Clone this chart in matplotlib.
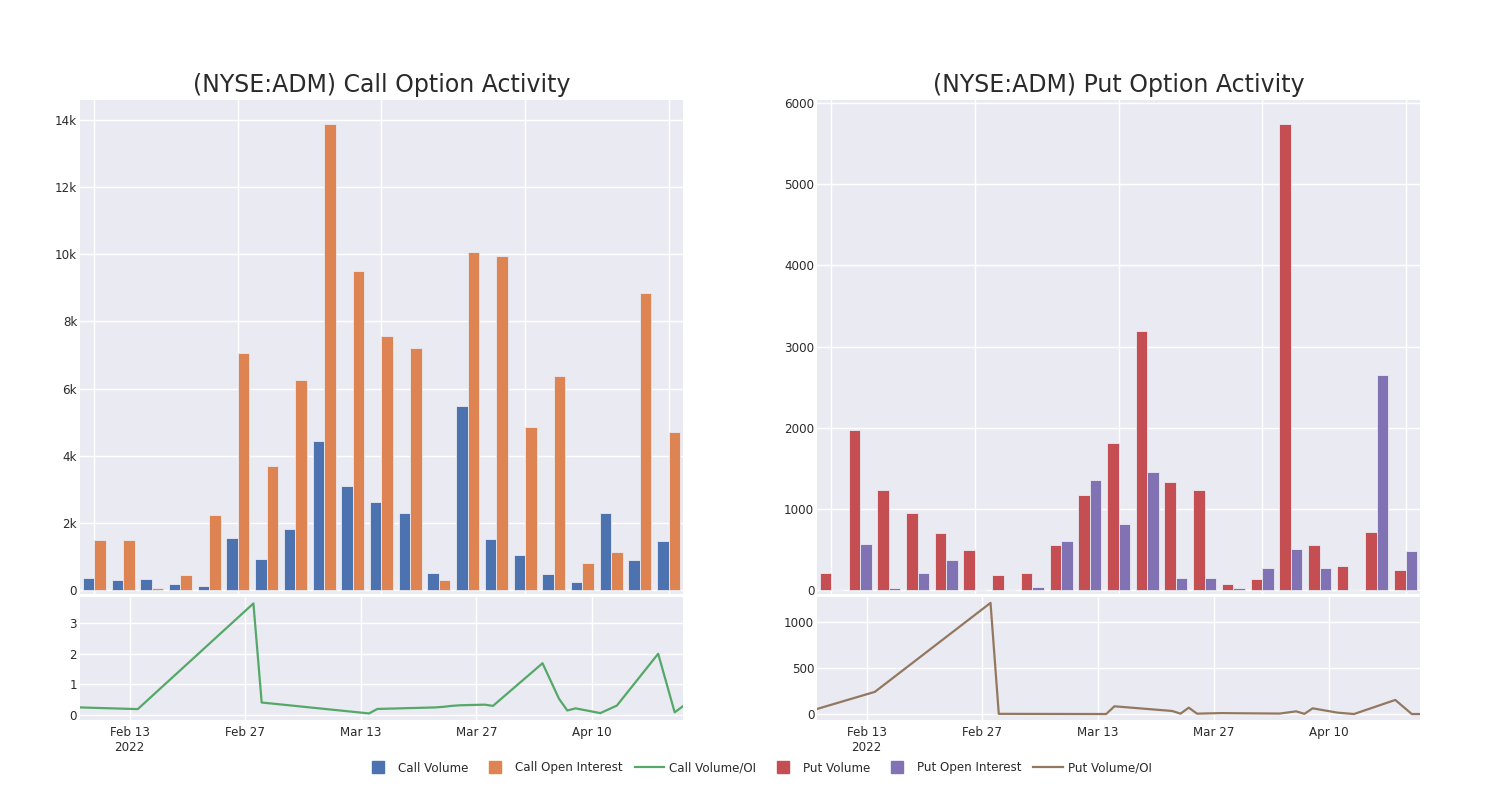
import numpy as np
import pandas as pd
import matplotlib
matplotlib.use("Agg")
import matplotlib.pyplot as plt
from matplotlib.lines import Line2D

# Data
dates = pd.to_datetime([
    "2022-02-07", "2022-02-14", "2022-02-28", "2022-03-01", "2022-03-14",
    "2022-03-15", "2022-03-22", "2022-03-23", "2022-03-24", "2022-03-25",
    "2022-03-28", "2022-03-29", "2022-04-04", "2022-04-06", "2022-04-07",
    "2022-04-08", "2022-04-11", "2022-04-13", "2022-04-18", "2022-04-20",
    "2022-04-21",
])

call_volume = [357, 288, 318, 179, 119, 1549, 914, 1817, 4429, 3088, 2612,
               2304, 497, 5491, 1519, 1043, 467, 248, 2294, 884, 1470]
call_oi = [1480, 1480, 70, 447, 2244, 7070, 3704, 6256, 13883, 9503, 7577,
           7219, 288, 10070, 9950, 4866, 6385, 814, 1142, 8858, 4717]
call_ratio = [0.25, 0.195, 3.64, 0.41, 0.054, 0.2, 0.25, 0.27, 0.30, 0.32,
              0.34, 0.30, 1.69, 0.53, 0.15, 0.22, 0.065, 0.31, 2.0, 0.09, 0.29]

put_volume = [210, 1966, 1231, 952, 698, 497, 185, 213, 554, 1169, 1810,
              3188, 1334, 1235, 70, 140, 5737, 550, 295, 714, 246]
put_oi = [3, 566, 20, 205, 365, 4, 4, 33, 603, 1350, 812, 1457, 152, 148,
          20, 275, 509, 267, 0, 2651, 476]
put_ratio = [55, 241, 1208, 2, 0, 84, 33, 4, 69, 4, 10, 9, 5, 29, 2, 62,
             15, 0, 153, 0, 0]

date_ticks = pd.to_datetime(["2022-02-13", "2022-02-27", "2022-03-13",
                             "2022-03-27", "2022-04-10"])
date_tick_labels = ["Feb 13\n2022", "Feb 27", "Mar 13", "Mar 27", "Apr 10"]

BG = "#EAEAF2"
TXT = "#2a2a2a"
C_BLUE, C_ORANGE, C_GREEN = "#4C72B0", "#DD8452", "#55A868"
C_RED, C_PURPLE, C_BROWN = "#C44E52", "#8172B3", "#937860"

plt.rcParams["font.family"] = ["DejaVu Sans"]

fig = plt.figure(figsize=(15, 8), dpi=100)


def style_axes(ax):
    ax.set_facecolor(BG)
    for s in ax.spines.values():
        s.set_visible(False)
    ax.grid(True, color="white", linewidth=1.0)
    ax.set_axisbelow(True)
    ax.tick_params(length=0, labelsize=8.6, colors=TXT, pad=2)


def draw_panel(left, title, vol, oi, ratio, c_vol, c_oi, c_ratio,
               top_ylim, top_ticks, top_labels, bot_ylim, bot_ticks):
    # bars on top, one group per date
    ax = fig.add_axes([left, 0.2575, 0.402, 0.6175])
    style_axes(ax)
    x = np.arange(len(vol))
    w = 0.4
    ax.bar(x - w / 2, vol, width=w, color=c_vol, edgecolor=BG, linewidth=0.6)
    ax.bar(x + w / 2, oi, width=w, color=c_oi, edgecolor=BG, linewidth=0.6)
    ax.set_xlim(-0.5, len(vol) - 0.5)
    ax.set_xticks([0, 5, 10, 15, 20])
    ax.set_xticklabels([])
    ax.set_ylim(*top_ylim)
    ax.set_yticks(top_ticks)
    ax.set_yticklabels(top_labels)
    ax.set_title(title, fontsize=17, color=TXT, pad=6)

    # volume / OI ratio underneath, on a date axis
    bx = fig.add_axes([left, 0.1, 0.402, 0.15375])
    style_axes(bx)
    bx.plot(dates, ratio, color=c_ratio, linewidth=1.6)
    bx.set_xlim(dates[0], dates[-1])
    bx.set_xticks(date_ticks)
    bx.set_xticklabels(date_tick_labels)
    bx.tick_params(axis="x", pad=4)
    bx.set_ylim(*bot_ylim)
    bx.set_yticks(bot_ticks)


draw_panel(0.0533, "(NYSE:ADM) Call Option Activity",
           call_volume, call_oi, call_ratio, C_BLUE, C_ORANGE, C_GREEN,
           (-119, 14596), np.arange(0, 14001, 2000),
           ["0"] + [f"{v}k" for v in range(2, 15, 2)],
           (-0.16, 3.85), [0, 1, 2, 3])

draw_panel(0.5447, "(NYSE:ADM) Put Option Activity",
           put_volume, put_oi, put_ratio, C_RED, C_PURPLE, C_BROWN,
           (-49, 6037), np.arange(0, 6001, 1000),
           [str(v) for v in range(0, 6001, 1000)],
           (-65, 1272), [0, 500, 1000])

handles = [
    Line2D([], [], marker="s", linestyle="none", markersize=9, color=C_BLUE),
    Line2D([], [], marker="s", linestyle="none", markersize=9, color=C_ORANGE),
    Line2D([], [], color=C_GREEN, linewidth=1.6),
    Line2D([], [], marker="s", linestyle="none", markersize=9, color=C_RED),
    Line2D([], [], marker="s", linestyle="none", markersize=9, color=C_PURPLE),
    Line2D([], [], color=C_BROWN, linewidth=1.6),
]
labels = ["Call Volume", "Call Open Interest", "Call Volume/OI",
          "Put Volume", "Put Open Interest", "Put Volume/OI"]
fig.legend(handles, labels, loc="center", bbox_to_anchor=(0.505, 0.04),
           ncol=6, frameon=False, fontsize=8.6, handlelength=2.5,
           handletextpad=0.4, columnspacing=1.0, labelcolor=TXT)

fig.savefig("out.png", dpi=100, facecolor="white")
